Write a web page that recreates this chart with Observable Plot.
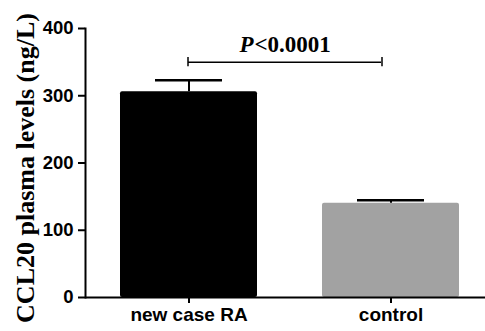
<!DOCTYPE html>
<html><head><meta charset="utf-8">
<script src="https://cdn.jsdelivr.net/npm/d3@7"></script>
<script src="https://cdn.jsdelivr.net/npm/@observablehq/plot@0.6"></script>
<style>body{margin:0;background:#fff}</style>
</head><body><div id="chart"></div>
<script>
const groups = ["new case RA", "control"];
const means = [306, 140];
const errors = [17, 4.5];
const colors = ["#000000", "#a2a2a2"];
const yTicks = [0, 100, 200, 300, 400];
const yLabel = "CCL20 plasma levels (ng/L)";
const pPrefix = "P";
const pValue = "<0.0001";
const pLevel = 350;

const data = groups.map((g, i) => ({group: g, mean: means[i], err: errors[i], color: colors[i]}));
const serif = "'Liberation Serif', 'Times New Roman', serif";

const chart = Plot.plot({
  width: 485, height: 331,
  marginLeft: 85, marginRight: 0, marginTop: 28, marginBottom: 34,
  style: {background: "#fff", color: "#000", fontFamily: "'Liberation Sans', Arial, sans-serif", fontWeight: "bold", fontSize: "17px", overflow: "visible"},
  x: {domain: groups, range: [85, 494], paddingInner: 0.32, paddingOuter: 0.1675, axis: null},
  y: {domain: [0, 400], axis: null},
  color: {type: "identity"},
  marks: [
    Plot.barY(data, {x: "group", y: "mean", fill: "color", rx: 2}),
    Plot.ruleX(data, {x: "group", y1: "mean", y2: d => d.mean + d.err, stroke: "#000", strokeWidth: 2}),
    Plot.tickY(data, {x: "group", y: d => d.mean + d.err, stroke: "#000", strokeWidth: 2.5, insetLeft: 35, insetRight: 35}),
    Plot.axisY({ticks: yTicks, tickSize: 7, tickPadding: 5, strokeWidth: 2, fontSize: 18.5, fontWeight: "bold", label: null}),
    Plot.axisX({tickSize: 6, tickPadding: 4, strokeWidth: 2, fontSize: 19, fontWeight: "bold", label: null}),
    Plot.frame({anchor: "left", strokeWidth: 2}),
    Plot.ruleY([0], {strokeWidth: 2}),
    Plot.ruleY([pLevel], {x1: () => groups[0], x2: () => groups[1], insetLeft: 68, insetRight: 78, strokeWidth: 1.5}),
    Plot.ruleX([groups[0]], {x: d => d, y1: pLevel - 7, y2: pLevel + 7, dx: -1, strokeWidth: 1.5}),
    Plot.ruleX([groups[1]], {x: d => d, y1: pLevel - 7, y2: pLevel + 7, dx: -9, strokeWidth: 1.5}),
    Plot.text([pPrefix], {text: d => d, y: () => pLevel, frameAnchor: "middle", textAnchor: "end", lineAnchor: "bottom", dx: -32, dy: -10, fontSize: 23, fontFamily: serif, fontWeight: "bold", fontStyle: "italic"}),
    Plot.text([pValue], {text: d => d, y: () => pLevel, frameAnchor: "middle", textAnchor: "start", lineAnchor: "bottom", dx: -31, dy: -10, fontSize: 23, fontFamily: serif, fontWeight: "bold"}),
    Plot.text([yLabel], {text: d => d, frameAnchor: "left", textAnchor: "middle", rotate: -90, lineAnchor: "middle", dx: -60, dy: 5, fontSize: 26, fontFamily: serif, fontWeight: "bold"})
  ]
});
document.getElementById("chart").appendChild(chart);
</script>
</body></html>
